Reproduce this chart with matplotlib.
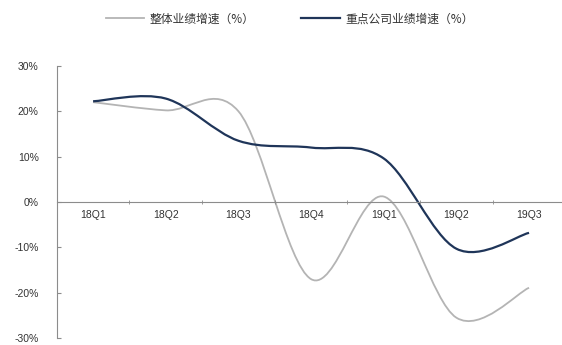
import numpy as np
import matplotlib.pyplot as plt
from matplotlib.path import Path
from matplotlib.patches import PathPatch
from matplotlib.lines import Line2D

plt.rcParams['font.family'] = ['Noto Sans CJK SC', 'DejaVu Sans']

quarters = ['18Q1', '18Q2', '18Q3', '18Q4', '19Q1', '19Q2', '19Q3']
overall = [22.0, 20.2, 20.0, -17.0, 1.2, -25.5, -18.9]      # 整体业绩增速
key_cos = [22.2, 22.8, 13.5, 12.0, 9.6, -10.3, -6.8]        # 重点公司业绩增速

gray = '#b4b4b4'
navy = '#1f3559'
txt = '#333333'


def smooth_path(xs, ys):
    # Catmull-Rom style bezier through every point (like Excel smoothed lines)
    pts = np.column_stack([xs, ys]).astype(float)
    n = len(pts)
    verts = [pts[0]]
    codes = [Path.MOVETO]
    for i in range(n - 1):
        p0 = pts[max(i - 1, 0)]
        p1 = pts[i]
        p2 = pts[i + 1]
        p3 = pts[min(i + 2, n - 1)]
        verts += [p1 + (p2 - p0) / 6, p2 - (p3 - p1) / 6, p2]
        codes += [Path.CURVE4] * 3
    return Path(verts, codes)


fig = plt.figure(figsize=(5.62, 3.45), dpi=100)
ax = fig.add_axes([0.101, 0.02, 0.905, 0.789])

x = np.arange(len(quarters))
ax.add_patch(PathPatch(smooth_path(x, overall), fill=False, edgecolor=gray, lw=1.3))
ax.add_patch(PathPatch(smooth_path(x, key_cos), fill=False, edgecolor=navy, lw=1.6))

ax.set_xlim(-0.5, len(quarters) - 0.5)
ax.set_ylim(-30, 30)

for s in ['top', 'right']:
    ax.spines[s].set_visible(False)
ax.spines['bottom'].set_position(('data', 0))
ax.spines['bottom'].set_color('#8c8c8c')
ax.spines['left'].set_color('#8c8c8c')

ax.set_yticks(np.arange(-30, 31, 10))
ax.set_yticklabels(['%d%%' % v for v in np.arange(-30, 31, 10)])
ax.set_xticks(x)
ax.set_xticklabels(quarters)
ax.set_xticks(np.arange(0.5, len(quarters) - 0.5, 1), minor=True)
ax.tick_params(axis='x', which='major', length=0, pad=6)
ax.tick_params(axis='x', which='minor', length=3, direction='inout', color='#8c8c8c')
ax.tick_params(axis='y', length=3, direction='in', color='#8c8c8c', pad=13)
for lbl in ax.get_xticklabels() + ax.get_yticklabels():
    lbl.set_family('Liberation Sans')
    lbl.set_fontsize(7.5)
    lbl.set_color(txt)

handles = [Line2D([], [], color=gray, lw=1.3), Line2D([], [], color=navy, lw=1.6)]
fig.legend(handles, ['整体业绩增速（%）', '重点公司业绩增速（%）'], loc='upper center',
           bbox_to_anchor=(0.515, 0.995), ncol=2, frameon=False, fontsize=8.5,
           handlelength=3.3, handletextpad=0.4, columnspacing=4.0, labelcolor=txt)

fig.savefig('out.png', dpi=100)
